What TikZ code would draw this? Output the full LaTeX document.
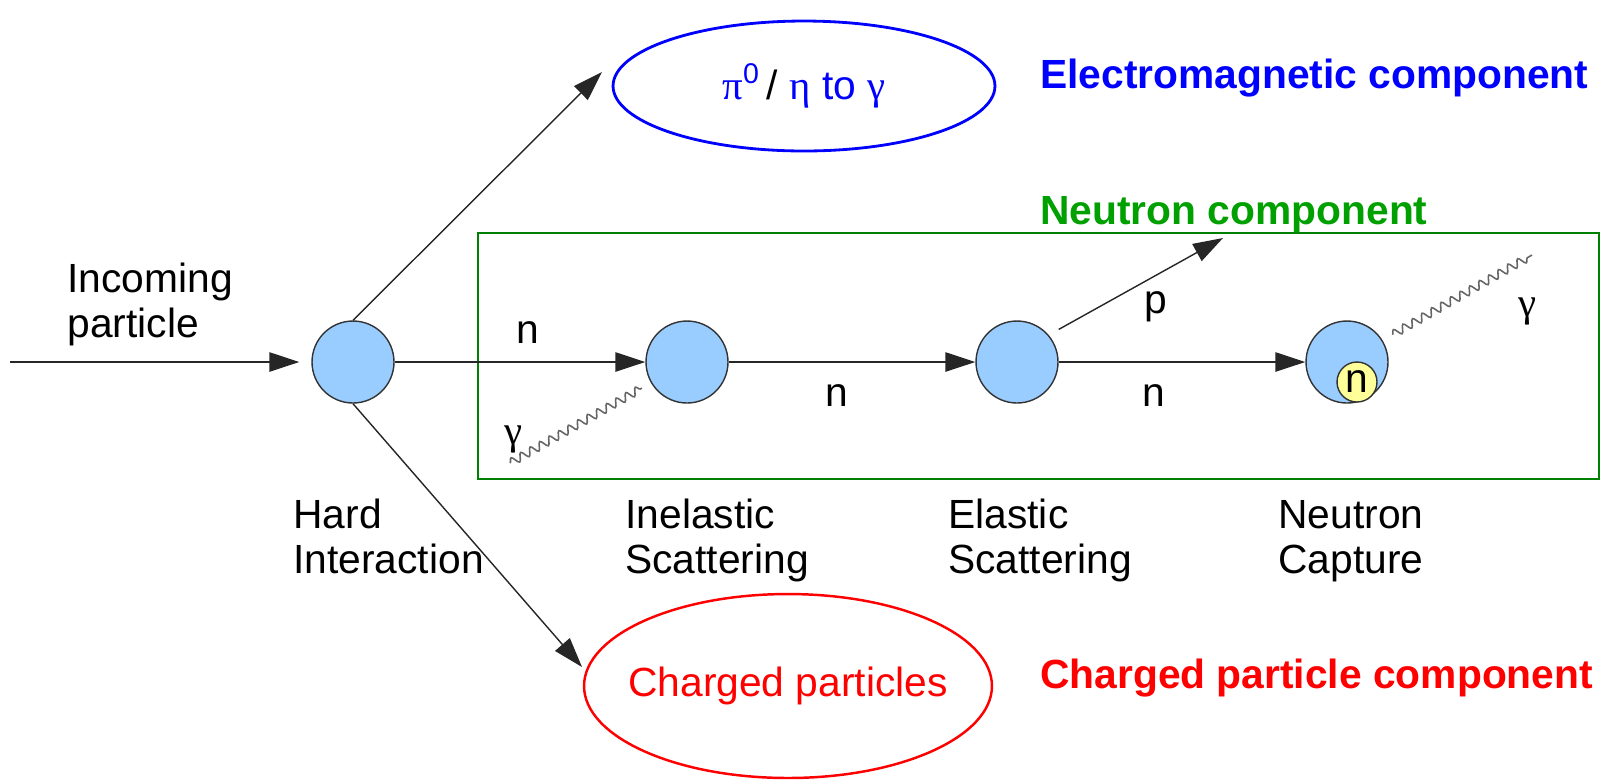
\documentclass[tikz,border=0pt]{standalone}
\usepackage{fontspec}
\setmainfont{Liberation Sans}
\newfontfamily\greekfont{Liberation Serif}
\usetikzlibrary{arrows.meta,shapes.geometric,decorations.pathmorphing,calc}
\definecolor{vfill}{HTML}{99CCFF}
\definecolor{capfill}{HTML}{FFFF99}
\definecolor{embl}{RGB}{0,0,255}
\definecolor{chred}{RGB}{255,0,0}
\definecolor{nboxgr}{RGB}{0,128,0}
\definecolor{ntxtgr}{RGB}{0,160,0}
\newcommand\lblfont{\fontsize{23.2}{25.5}\selectfont}
\tikzset{
  vertex/.style={circle,draw=black!80,fill=vfill,line width=0.8pt,minimum size=1.64cm,inner sep=0pt},
  track/.style={line width=0.8pt,draw=black!85,-{Triangle[length=17pt,width=11pt]}},
  photon/.style={draw=black!60,line width=0.9pt,decorate,decoration={snake,segment length=0.22cm,amplitude=0.08cm}},
  lbl/.style={align=left,anchor=base west,inner sep=0pt},
  comp/.style={font=\lblfont\bfseries,anchor=base west,inner sep=0pt},
}
\newcommand\gk[1]{{\greekfont #1}}

\begin{document}
\begin{tikzpicture}[x=0.02cm,y=-0.02cm,font=\lblfont]
\useasboundingbox (0,0) rectangle (1611,779);
% neutron box
\draw[nboxgr,line width=1.5pt] (478,233) rectangle (1599,479);
% interaction points
\node[vertex] (hard) at (353,362) {};
\node[vertex] (inel) at (687,362) {};
\node[vertex] (elas) at (1017,362) {};
\node[vertex] (capt) at (1347,362) {};
\node[circle,draw=black!80,fill=capfill,line width=0.8pt,minimum size=0.8cm,inner sep=0pt] (capn) at (1357,382) {n};
% components
\node[ellipse,draw=embl,line width=1.6pt,minimum width=7.64cm,minimum height=2.6cm,inner sep=0pt] (emell) at (804,86) {};
\node (emin) at (emell) {\color{embl}\gk{π}\textsuperscript{0}\,{\color{black}/} \gk{η} to \gk{γ}};
\node[ellipse,draw=chred,line width=1.4pt,minimum width=8.16cm,minimum height=3.68cm,inner sep=0pt] (chell) at (788,686) {};
\node[text=chred] (chin) at (chell) {Charged particles};
\node[comp,text=embl] (emtxt) at (1040,88) {Electromagnetic component};
\node[comp,text=ntxtgr] (ntxt) at (1040,224) {Neutron component};
\node[comp,text=chred] (chtxt) at (1040,688) {Charged particle component};
% free ends
\coordinate (in0) at (10,362);
\coordinate (emtip) at (602,72);
\coordinate (chtip) at (582,667);
\coordinate (ptip) at (1223,238);
\coordinate (g1) at (510,463);
\coordinate (g2) at (1532,255);
% tracks
\draw[track,shorten >=0.24cm] (in0) -- (hard);
\draw[track] (hard.north) -- (emtip);
\draw[track] (hard.south) -- (chtip);
\draw[track] (hard) -- (inel);
\draw[track] (inel) -- (elas);
\draw[track] (elas) -- (capt);
\draw[track] ($(elas.center)!1.27!(elas.38)$) -- (ptip);
\draw[photon] (g1) -- ($(inel.center)!1.25!(inel.210)$);
\draw[photon] ($(capt.center)!1.27!(capt.31)$) -- (g2);
% labels
\node[lbl] (inc) at (67,337) {Incoming\\particle};
\node[lbl] (hardl) at (293,573) {Hard\\Interaction};
\node[lbl] (inell) at (625,573) {Inelastic\\Scattering};
\node[lbl] (elasl) at (948,573) {Elastic\\Scattering};
\node[align=center,anchor=base,inner sep=0pt] (captl) at (1351,573) {Neutron\\Capture};
\node[anchor=base] (n1) at (528,343) {n};
\node[anchor=base] (n2) at (837,406) {n};
\node[anchor=base] (n3) at (1154,406) {n};
\node[anchor=base] (p1) at (1156,313) {p};
\node (gl1) at (513,439) {\gk{γ}};
\node (gl2) at (1527,311) {\gk{γ}};
\end{tikzpicture}
\end{document}
